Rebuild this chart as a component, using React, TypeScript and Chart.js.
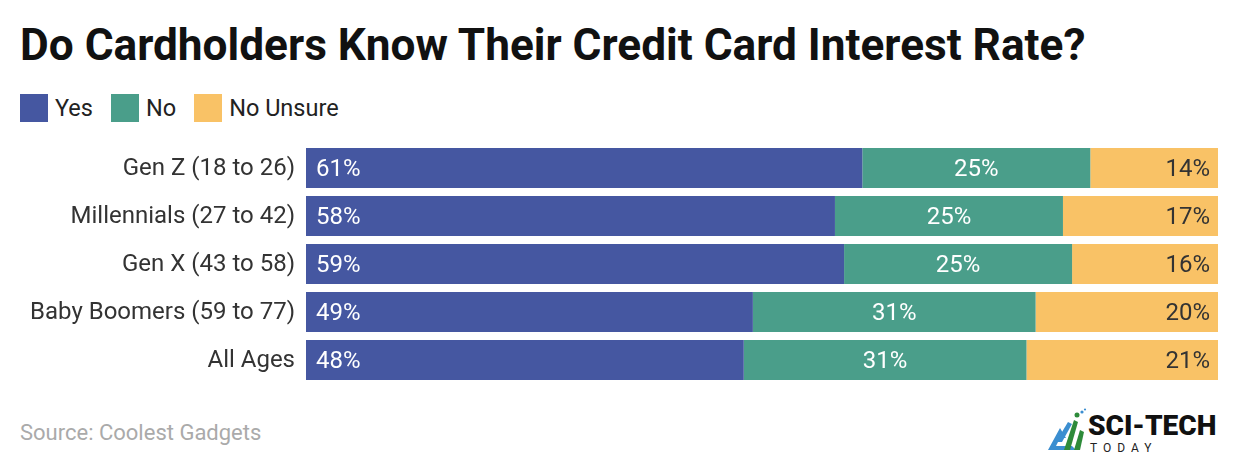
import React, { useEffect, useRef } from "react";
import { Chart, registerables } from "chart.js";

Chart.register(...registerables);

const categories = [
  "Gen Z (18 to 26)",
  "Millennials (27 to 42)",
  "Gen X (43 to 58)",
  "Baby Boomers (59 to 77)",
  "All Ages",
];
const yesValues = [61, 58, 59, 49, 48];
const noValues = [25, 25, 25, 31, 31];
const unsureValues = [14, 17, 16, 20, 21];
const seriesNames = ["Yes", "No", "No Unsure"];
const seriesColors = ["#4557A1", "#4A9E8A", "#F9C266"];
const labelColors = ["#FFFFFF", "#FFFFFF", "#333333"];

const FONT = "Roboto, 'Noto Sans', sans-serif";

const barLabels = {
  id: "barLabels",
  afterDatasetsDraw(chart: any) {
    const ctx = chart.ctx;
    ctx.save();
    ctx.font = `400 24px ${FONT}`;
    ctx.textBaseline = "middle";
    chart.data.datasets.forEach((ds: any, di: number) => {
      const meta = chart.getDatasetMeta(di);
      meta.data.forEach((bar: any, i: number) => {
        const v = ds.data[i];
        const left = Math.min(bar.x, bar.base);
        const right = Math.max(bar.x, bar.base);
        ctx.fillStyle = labelColors[di];
        let x;
        if (di === 0) {
          ctx.textAlign = "left";
          x = left + 10;
        } else if (di === 1) {
          ctx.textAlign = "center";
          x = (left + right) / 2;
        } else {
          ctx.textAlign = "right";
          x = right - 8;
        }
        ctx.fillText(`${v}%`, x, bar.y + 2);
      });
    });
    ctx.restore();
  },
};

function Logo() {
  return (
    <div style={{ position: "absolute", left: 1046, top: 408, width: 190, height: 50 }}>
      <svg width="44" height="46" viewBox="0 0 44 46" style={{ position: "absolute", left: 0, top: 0 }}>
        <path d="M2 42 L14 20 L20 30 L14 30 L10 38 L26 38 L30 42 Z" fill="#3B8ED0" />
        <path d="M10 34 L22 14 L26 16 L16 34 Z" fill="#3B8ED0" />
        <path d="M18 42 L28 12 L32 14 L24 42 Z" fill="#2E8B3A" />
        <path d="M28 42 L34 22 L38 24 L34 42 Z" fill="#2E8B3A" />
        <circle cx="31" cy="7" r="2.5" fill="#2E8B3A" />
        <circle cx="36" cy="4" r="1.6" fill="#3B8ED0" />
        <circle cx="39" cy="1.5" r="1.1" fill="#3B8ED0" />
      </svg>
      <div
        style={{
          position: "absolute",
          left: 42,
          top: 3,
          font: `900 28px ${FONT}`,
          color: "#111",
          lineHeight: "30px",
          whiteSpace: "nowrap",
        }}
      >
        SCI-TECH
      </div>
      <div
        style={{
          position: "absolute",
          left: 44,
          top: 33,
          font: `400 12px ${FONT}`,
          color: "#222",
          letterSpacing: "6px",
          lineHeight: "14px",
        }}
      >
        TODAY
      </div>
    </div>
  );
}

export default function App() {
  const canvasRef = useRef<HTMLCanvasElement | null>(null);

  useEffect(() => {
    document.body.style.margin = "0";
    const chart = new Chart(canvasRef.current as HTMLCanvasElement, {
      type: "bar",
      data: {
        labels: categories,
        datasets: [yesValues, noValues, unsureValues].map((d, i) => ({
          label: seriesNames[i],
          data: d,
          backgroundColor: seriesColors[i],
          borderWidth: 0,
          barPercentage: 1,
          categoryPercentage: 40 / 48,
        })),
      },
      options: {
        indexAxis: "y",
        animation: false,
        responsive: false,
        maintainAspectRatio: false,
        layout: { padding: { left: 0, right: 22, top: 0, bottom: 0 } },
        plugins: {
          legend: { display: false },
          tooltip: { enabled: false },
          title: { display: false },
        },
        scales: {
          x: {
            stacked: true,
            min: 0,
            max: 100,
            display: false,
          },
          y: {
            stacked: true,
            grid: { display: false, drawTicks: false, tickLength: 0 },
            border: { display: false },
            ticks: {
              color: "#333333",
              font: { family: FONT, size: 24 },
              padding: 11,
              labelOffset: 1,
              autoSkip: false,
            },
            afterFit(scale: any) {
              scale.width = 306;
              scale.paddingTop = 0;
              scale.paddingBottom = 0;
            },
          },
        },
      },
      plugins: [barLabels],
    });
    return () => chart.destroy();
  }, []);

  return (
    <div style={{ position: "relative", width: 1240, height: 468, background: "#fff", fontFamily: FONT }}>
      <div
        style={{
          position: "absolute",
          left: 20,
          top: 19,
          font: `700 44.2px ${FONT}`,
          color: "#111",
          lineHeight: "52px",
          whiteSpace: "nowrap",
        }}
      >
        Do Cardholders Know Their Credit Card Interest Rate?
      </div>
      <div style={{ position: "absolute", left: 20, top: 94, height: 28, display: "flex", alignItems: "center" }}>
        {seriesNames.map((n, i) => (
          <div key={n} style={{ display: "flex", alignItems: "center", marginRight: 18 }}>
            <div style={{ width: 28, height: 28, background: seriesColors[i], marginRight: 7 }} />
            <span style={{ font: `400 23.5px ${FONT}`, color: "#222", lineHeight: "28px" }}>{n}</span>
          </div>
        ))}
      </div>
      <canvas
        ref={canvasRef}
        width={1240}
        height={240}
        style={{ position: "absolute", left: 0, top: 144, width: 1240, height: 240 }}
      />
      <div
        style={{
          position: "absolute",
          left: 20,
          top: 420,
          font: `400 22px ${FONT}`,
          color: "#AAAAAA",
          lineHeight: "26px",
        }}
      >
        Source: Coolest Gadgets
      </div>
      <Logo />
    </div>
  );
}
